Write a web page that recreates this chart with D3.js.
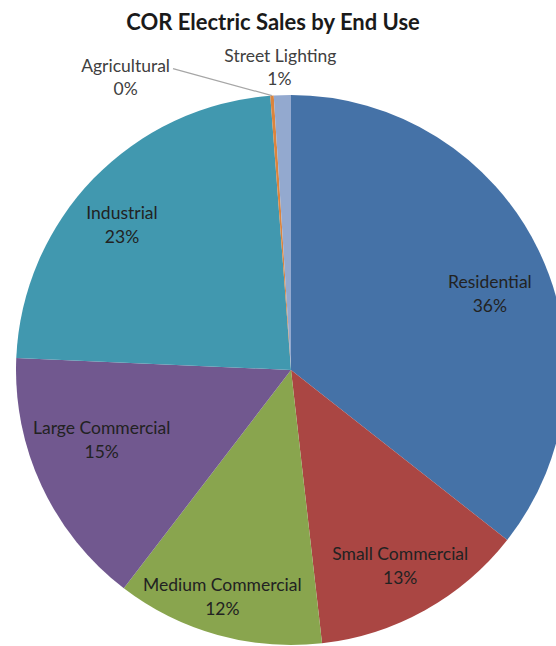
<!DOCTYPE html>
<html>
<head>
<meta charset="utf-8">
<script src="https://cdn.jsdelivr.net/npm/d3@7"></script>
<style>
  html, body { margin: 0; padding: 0; background: #fff; }
  svg { display: block; }
  text { font-family: Lato, "Open Sans", sans-serif; }
</style>
</head>
<body>
<div id="chart"></div>
<script>
// Share of electric sales by end use (percent)
const categories = ["Residential", "Small Commercial", "Medium Commercial",
  "Large Commercial", "Industrial", "Agricultural", "Street Lighting"];
const shares = [35.6, 12.6, 12.2, 15.3, 23.1, 0.2, 1.0];
const colors = ["#4572A7", "#AA4643", "#89A54E", "#71588F", "#4198AF", "#DB843D", "#93A9CF"];
const title = "COR Electric Sales by End Use";

const W = 556, H = 646;
const cx = 291, cy = 370, R = 275;
const FS = 17.5;

// best-fit nudges for the inside labels (pixels from the 0.8R centroid)
const labelNudge = {
  "Residential": [1, 20],
  "Small Commercial": [2, 4],
  "Medium Commercial": [-10, 15],
  "Large Commercial": [10, -23],
  "Industrial": [-11, 8]
};

const svg = d3.select("#chart").append("svg")
  .attr("width", W).attr("height", H);

svg.append("text")
  .attr("x", 273).attr("y", 30)
  .attr("text-anchor", "middle")
  .attr("font-size", 22).attr("font-weight", "bold")
  .attr("fill", "#1a1a1a")
  .text(title);

const data = categories.map((c, i) => ({ name: c, value: shares[i], color: colors[i] }));
const total = d3.sum(shares);

const pie = d3.pie().value(d => d.value).sort(null);
const arcs = pie(data);
const arc = d3.arc().innerRadius(0).outerRadius(R);
const labelArc = d3.arc().innerRadius(R * 0.8).outerRadius(R * 0.8);

const g = svg.append("g").attr("transform", `translate(${cx},${cy})`);

g.selectAll("path.slice")
  .data(arcs)
  .join("path")
  .attr("class", "slice")
  .attr("d", arc)
  .attr("fill", d => d.data.color);

const pct = d => Math.round(d.data.value / total * 100) + "%";
const small = d => d.data.value < 2;

// Inside labels for the large slices
const inside = g.selectAll("g.lbl")
  .data(arcs.filter(d => !small(d)))
  .join("g")
  .attr("class", "lbl")
  .attr("transform", d => {
    const [x, y] = labelArc.centroid(d);
    const [nx, ny] = labelNudge[d.data.name] || [0, 0];
    return `translate(${x + nx},${y + ny})`;
  });

inside.append("text")
  .attr("text-anchor", "middle")
  .attr("y", -6)
  .attr("font-size", FS)
  .attr("fill", "#222")
  .text(d => d.data.name);
inside.append("text")
  .attr("text-anchor", "middle")
  .attr("y", 18)
  .attr("font-size", FS)
  .attr("fill", "#222")
  .text(pct);

// Outside labels for the thin slices
const outerArc = d3.arc().innerRadius(R).outerRadius(R);
arcs.filter(small).forEach(d => {
  const [ex, ey] = outerArc.centroid(d);
  if (d.data.name === "Agricultural") {
    const lx = ex - 99, ly = ey - 27;
    g.append("line")
      .attr("x1", ex).attr("y1", ey)
      .attr("x2", lx).attr("y2", ly)
      .attr("stroke", "#a6a6a6").attr("stroke-width", 1.2);
    const name = g.append("text").attr("x", lx - 3).attr("y", ly + 3)
      .attr("text-anchor", "end").attr("font-size", FS).attr("fill", "#404040")
      .text(d.data.name);
    const w = name.node().getComputedTextLength();
    g.append("text").attr("x", lx - 3 - w / 2).attr("y", ly + 26)
      .attr("text-anchor", "middle").attr("font-size", FS).attr("fill", "#404040")
      .text(pct(d));
  } else {
    g.append("text").attr("x", ex - 2).attr("y", ey - 33)
      .attr("text-anchor", "middle").attr("font-size", FS).attr("fill", "#404040")
      .text(d.data.name);
    g.append("text").attr("x", ex - 3).attr("y", ey - 10)
      .attr("text-anchor", "middle").attr("font-size", FS).attr("fill", "#404040")
      .text(pct(d));
  }
});
</script>
</body>
</html>
